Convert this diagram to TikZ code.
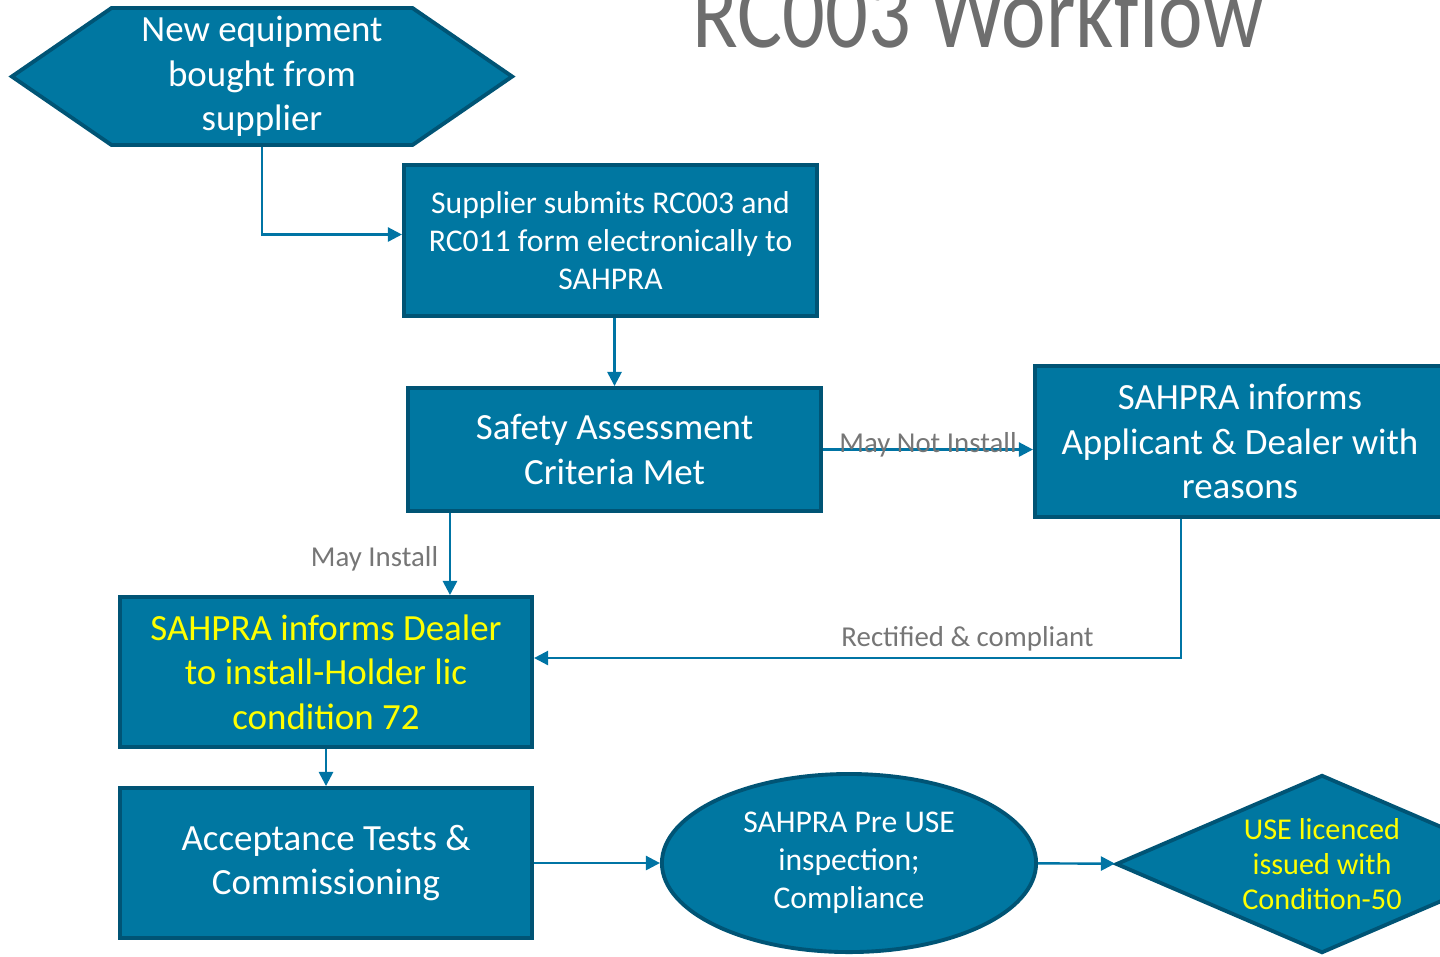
\documentclass[tikz,border=0pt]{standalone}
\usepackage{fontspec}
\setmainfont{Carlito}
\usetikzlibrary{shapes.geometric,shapes.symbols,arrows.meta}

\definecolor{boxfill}{RGB}{0,119,161}
\definecolor{boxline}{RGB}{0,84,117}
\definecolor{flowline}{RGB}{0,116,164}
\definecolor{lblgray}{RGB}{118,118,118}
\definecolor{titlegray}{RGB}{110,110,110}
\definecolor{hiyellow}{RGB}{255,255,0}

\newcommand{\bigtxt}{\fontsize{10.5}{12.7}\selectfont}
\newcommand{\smalltxt}{\fontsize{9}{10.8}\selectfont}

\tikzset{
  stepbox/.style={draw=boxline, fill=boxfill, line width=1.1pt, text=white,
    align=center, inner sep=0pt},
  flow/.style={draw=flowline, line width=0.7pt, -{Triangle[length=4pt,width=4pt]}},
  lbl/.style={text=lblgray, font=\fontsize{8.2}{10}\selectfont}
}

\begin{document}
\begin{tikzpicture}[x=0.01cm, y=-0.01cm]
      \clip (0,0) rectangle (1440,956);

      % Title
      \node[anchor=base, text=titlegray, inner sep=0pt] (title) at (978,47)
        {\scalebox{1}[1.2]{\fontsize{24}{28}\selectfont RC003 Workflow}};

      % Nodes
      \node[stepbox, shape=signal, signal to=west and east, signal pointer angle=69,
        minimum width=5cm, minimum height=1.37cm, font=\bigtxt] (buy) at (262,76.5)
        {New equipment\\bought from\\supplier};
      \node[stepbox, minimum width=4.13cm, minimum height=1.51cm, font=\smalltxt] (submit) at (610.5,240.5)
        {Supplier submits RC003 and\\RC011 form electronically to\\SAHPRA};
      \node[stepbox, minimum width=4.13cm, minimum height=1.23cm, font=\bigtxt] (safety) at (614.5,449.5)
        {Safety Assessment\\Criteria Met};
      \node[stepbox, minimum width=4.1cm, minimum height=1.51cm, font=\bigtxt] (reasons) at (1240,441.5)
        {SAHPRA informs\\Applicant \& Dealer with\\reasons};
      \node[stepbox, minimum width=4.12cm, minimum height=1.5cm, font=\bigtxt, text=hiyellow] (dealer) at (326,672)
        {SAHPRA informs Dealer\\to install-Holder lic\\condition 72};
      \node[stepbox, minimum width=4.12cm, minimum height=1.5cm, font=\bigtxt] (accept) at (326,863)
        {Acceptance Tests \&\\Commissioning};
      \node[stepbox, ellipse, minimum width=3.74cm, minimum height=1.78cm, font=\smalltxt] (preuse) at (849,863)
        {SAHPRA Pre USE\\inspection;\\Compliance};
      \node[stepbox, diamond, aspect=2.34, minimum width=4.12cm, minimum height=1.78cm, text=hiyellow,
        font=\fontsize{8.6}{10}\selectfont] (licence) at (1322,864)
        {USE licenced\\issued with\\Condition-50};

      % Arrows
      \draw[flow] (buy) |- ([yshift=0.06cm]submit.west);
      \draw[flow] (safety.north |- submit.south) -- (safety.north);
      \draw[flow] (safety.east) -- (safety.east -| reasons.west)
        node[midway, above, lbl, inner sep=0pt, yshift=-2.5pt] {May Not Install};
      \draw[flow] ([xshift=0.44cm]safety.south west) -- ([xshift=0.44cm]safety.south west |- dealer.north)
        node[midway, left, lbl, inner sep=3pt, yshift=-1.5pt] {May Install};
      \draw[flow] ([xshift=1.48cm]reasons.south west) |- ([yshift=0.14cm]dealer.east)
        node[pos=0.665, above, lbl, inner sep=1.5pt] {Rectified \& compliant};
      \draw[flow] (dealer) -- (accept);
      \draw[flow] (accept) -- (preuse);
      \draw[flow] (preuse) -- (licence);
    \end{tikzpicture}
\end{document}
